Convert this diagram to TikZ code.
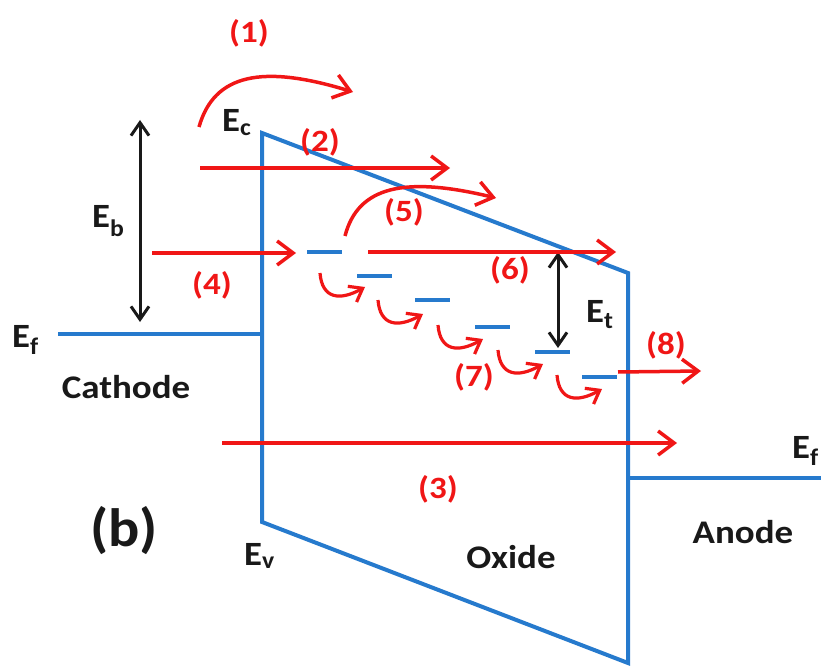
\documentclass[tikz,border=0pt]{standalone}
\usepackage{fontspec}
\setmainfont{Carlito}
\usetikzlibrary{arrows.meta}
\definecolor{bandblue}{RGB}{38,122,205}
\definecolor{arrred}{RGB}{240,22,22}
\definecolor{txtblack}{RGB}{25,25,25}
\begin{document}
\begin{tikzpicture}[x={(1pt,0pt)},y={(0pt,-1pt)},
  band/.style={draw=bandblue,line width=4pt,line join=miter},
  trap/.style={draw=bandblue,line width=4pt},
  rarr/.style={draw=arrred,line width=3.5pt,-{Straight Barb[length=16pt,width=24pt]}},
  hook/.style={draw=arrred,line width=3.2pt,-{Straight Barb[length=12pt,width=18pt]}},
  barr/.style={draw=txtblack,line width=3pt,{Straight Barb[length=13pt,width=18pt]}-{Straight Barb[length=13pt,width=18pt]}},
  rlab/.style={text=arrred,font=\fontsize{31}{36}\selectfont\bfseries,inner sep=0pt,xscale=1.13},
  elab/.style={text=txtblack,font=\fontsize{34}{38}\selectfont\bfseries,inner sep=0pt,anchor=base west,xscale=1.08},
  klab/.style={text=txtblack,font=\fontsize{33}{38}\selectfont\bfseries,inner sep=0pt,anchor=base,xscale=1.12}
  ]
\useasboundingbox (0,0) rectangle (821,668);
% band diagram
\coordinate (ec) at (262,133);
\coordinate (ev) at (262,522);
\coordinate (ecR) at (628,273);
\coordinate (evR) at (628,663);
\coordinate (cfL) at (58,334);
\coordinate (cfR) at (262,334);
\coordinate (afL) at (628,478);
\coordinate (afR) at (821,478);
\draw[band] (ec) -- (ev) -- (evR) -- (ecR) -- cycle;
\draw[band] (cfL) -- (cfR);
\draw[band] (afL) -- (afR);
% traps
\foreach \i/\x/\y in {1/307/252,2/357/276,3/415/300,4/475/327,5/535/352,6/582/377}{
  \coordinate (t\i a) at (\x,\y);
  \coordinate (t\i b) at ({\x+35},\y);
  \draw[trap] (t\i a) -- (t\i b);
}
% energy arrows
\coordinate (eb1) at (140,120); \coordinate (eb2) at (140,322);
\draw[barr] (eb1) -- (eb2);
\coordinate (et1) at (558,252); \coordinate (et2) at (558,348);
\draw[barr] (et1) -- (et2);
% red arrows
\coordinate (a1s) at (199,127); \coordinate (a1e) at (353,92);
\draw[rarr] (a1s) .. controls (214,74) and (262,64) .. (a1e);
\coordinate (a2s) at (200,168); \coordinate (a2e) at (450,168);
\draw[rarr] (a2s) -- (a2e);
\coordinate (a4s) at (152,253); \coordinate (a4e) at (296,253);
\draw[rarr] (a4s) -- (a4e);
\coordinate (a5s) at (345,236); \coordinate (a5e) at (496,198);
\draw[rarr] (a5s) .. controls (358,186) and (405,176) .. (a5e);
\coordinate (a6s) at (368,252); \coordinate (a6e) at (616,252);
\draw[rarr] (a6s) -- (a6e);
\coordinate (a3s) at (222,443); \coordinate (a3e) at (677,443);
\draw[rarr] (a3s) -- (a3e);
\coordinate (a8s) at (618,372); \coordinate (a8e) at (701,371);
\draw[rarr] (a8s) -- (a8e);
% hopping hooks (7)
\foreach \i/\x/\y in {1/320/273,2/378/300,3/438/325,4/498/350,5/557/375}{
  \coordinate (h\i s) at (\x,\y);
  \coordinate (h\i e) at ({\x+45},{\y+14});
  \draw[hook] (h\i s) .. controls ({\x+2},{\y+26}) and ({\x+20},{\y+28}) .. (h\i e);
}
% red labels
\node[rlab] (l1) at (249,33) {(1)};
\node[rlab] (l2) at (320,142) {(2)};
\node[rlab] (l3) at (438,489) {(3)};
\node[rlab] (l4) at (212,285) {(4)};
\node[rlab] (l5) at (404,212) {(5)};
\node[rlab] (l6) at (510,270) {(6)};
\node[rlab] (l7) at (474,377) {(7)};
\node[rlab] (l8) at (666,345) {(8)};
% energy labels
\node[elab] (Ec) at (222,132) {E\textsubscript{c}};
\node[elab] (Ev) at (244,565) {E\textsubscript{v}};
\node[elab] (Eb) at (92,228) {E\textsubscript{b}};
\node[elab] (Et) at (586,322) {E\textsubscript{t}};
\node[elab] (Ef1) at (12,347) {E\textsubscript{f}};
\node[elab] (Ef2) at (792,458) {E\textsubscript{f}};
% region labels
\node[klab] (cath) at (126,398) {Cathode};
\node[klab] (anod) at (743,543) {Anode};
\node[klab] (oxid) at (511,568) {Oxide};
\node[text=txtblack,font=\fontsize{54}{60}\selectfont\bfseries,inner sep=0pt,xscale=1.08] (b) at (124,531) {(b)};
\end{tikzpicture}
\end{document}
